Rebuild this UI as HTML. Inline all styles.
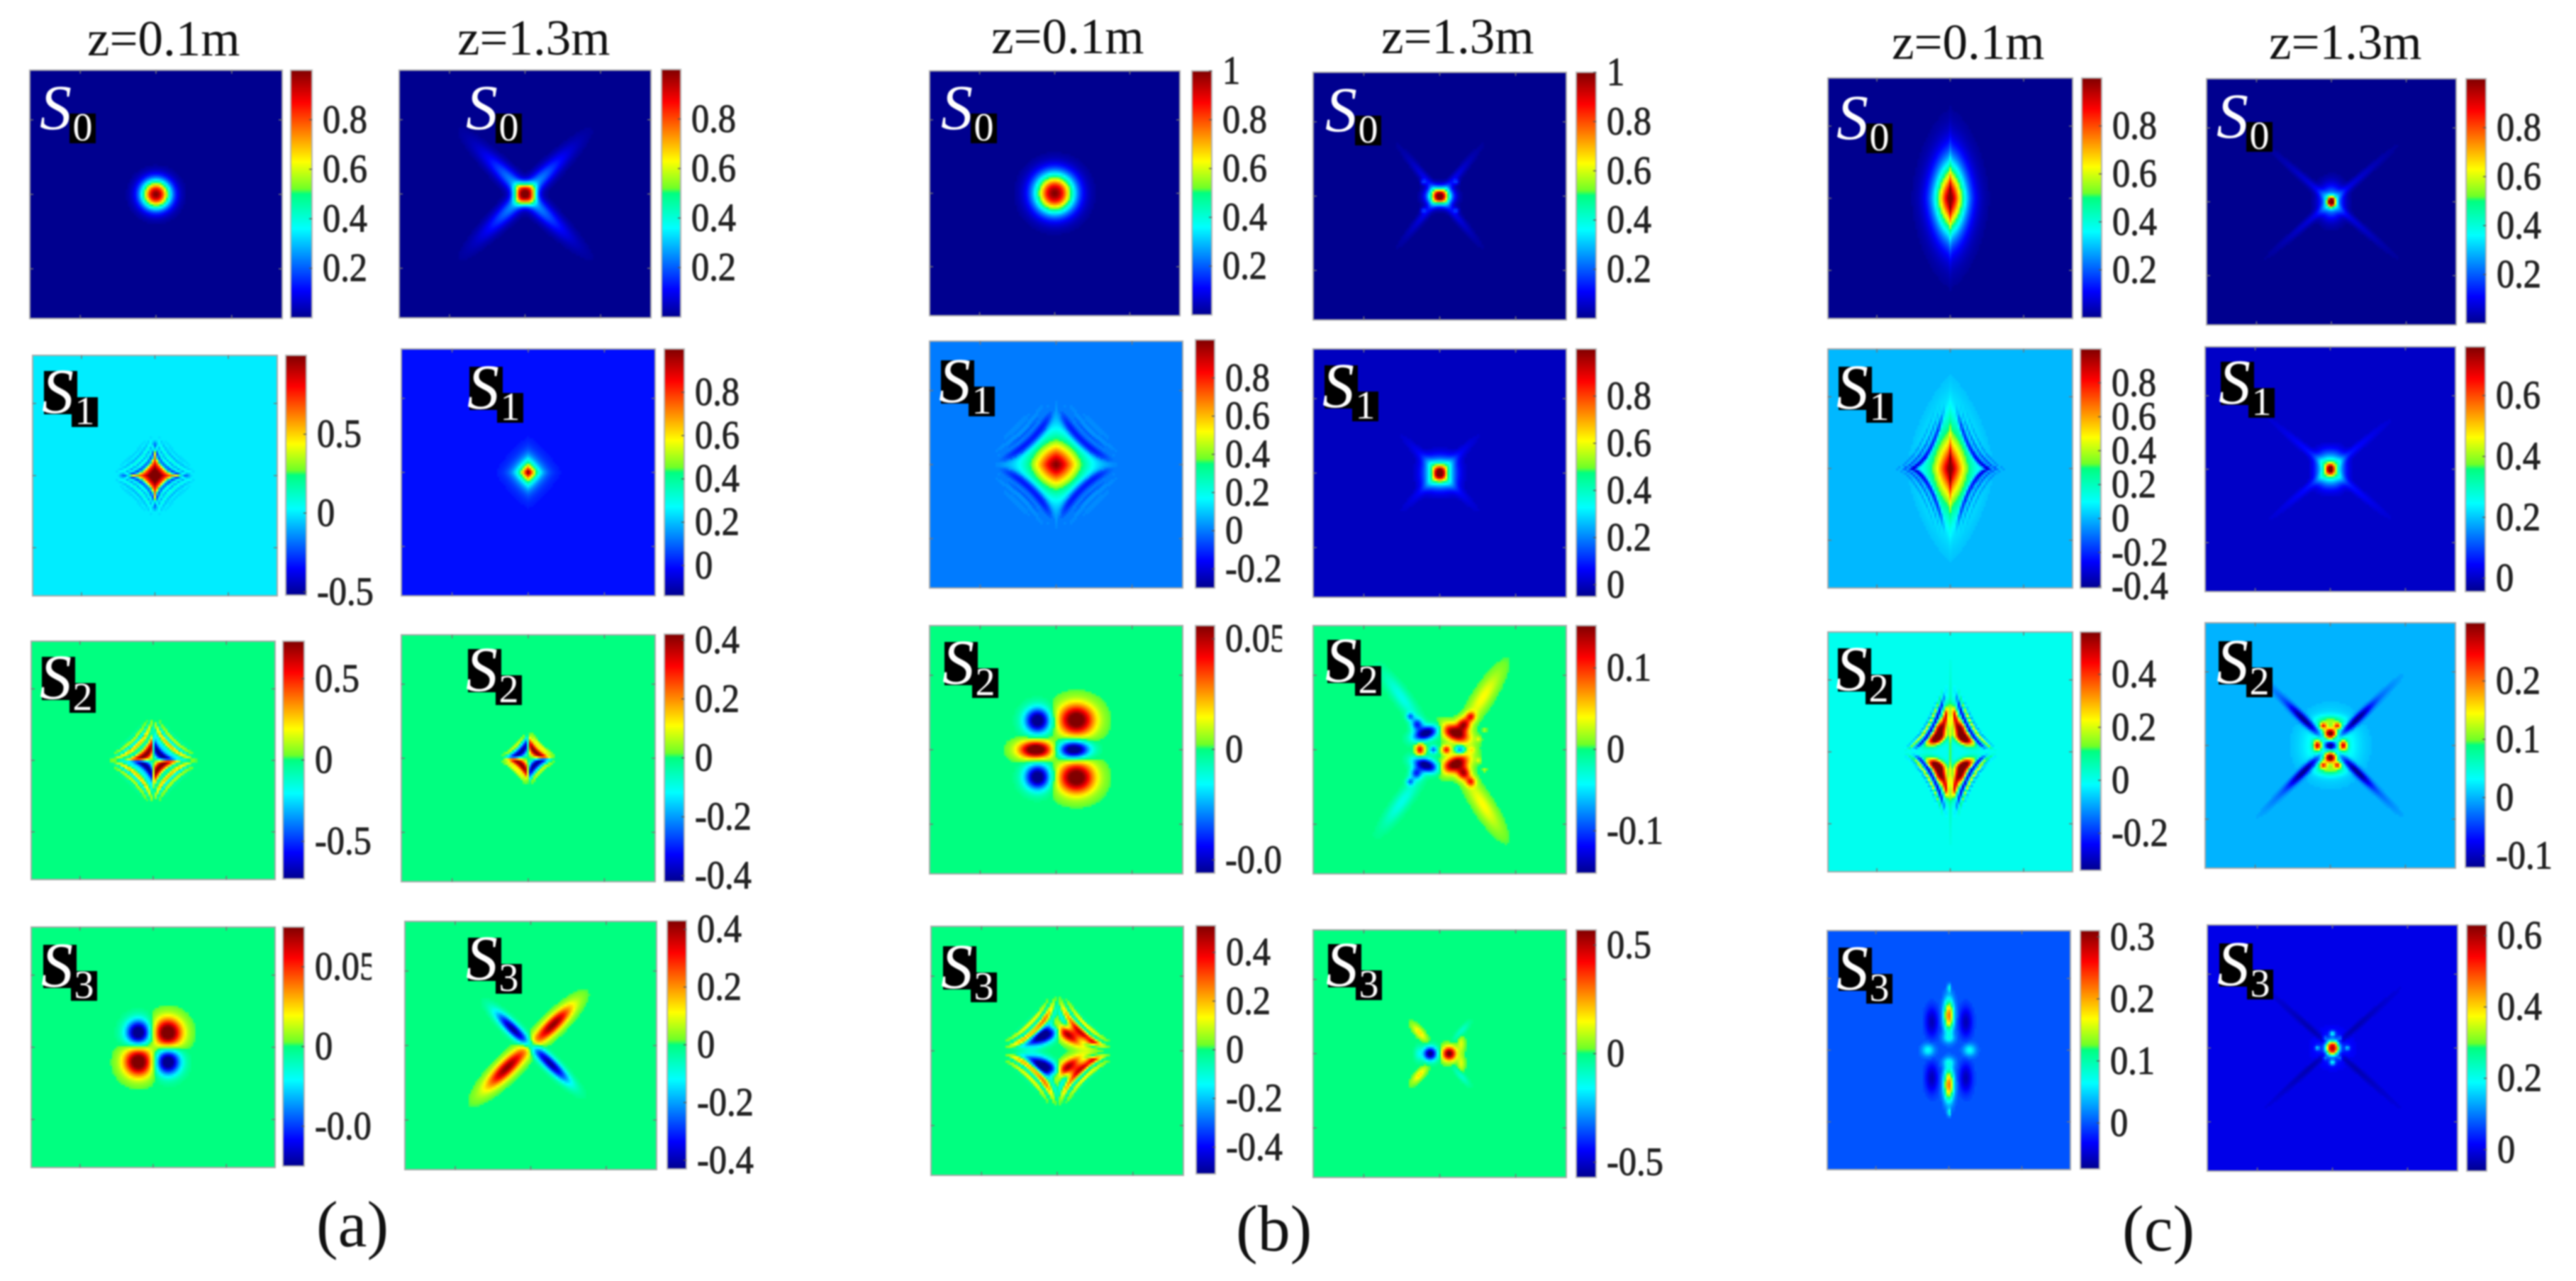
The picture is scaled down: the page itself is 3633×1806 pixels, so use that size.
<!DOCTYPE html>
<html lang="en">
<head>
<meta charset="utf-8">
<title>Stokes parameter maps</title>
<style>
html,body{margin:0;padding:0;background:#fff;}
body{width:3633px;height:1806px;overflow:hidden;}
#figure{display:block;filter:blur(1.1px);}
text{font-family:"Liberation Serif","DejaVu Serif",serif;}
.title{font-size:71px;fill:#111;}
.caption{font-size:92px;fill:#111;}
.tick{font-size:56px;fill:#222;stroke:#222;stroke-width:1px;}
.s{font-size:90px;font-style:italic;fill:#fff;}
.sub{font-size:56px;fill:#fff;}
</style>
</head>
<body>
<svg id="figure" xmlns="http://www.w3.org/2000/svg" width="3633" height="1806" viewBox="0 0 3633 1806">
<rect x="0" y="0" width="3633" height="1806" fill="#fff"/>
<text class="title" x="123" y="78">z=0.1m</text>
<text class="title" x="645" y="77">z=1.3m</text>
<text class="title" x="1398" y="75">z=0.1m</text>
<text class="title" x="1948" y="75">z=1.3m</text>
<text class="title" x="2668" y="83">z=0.1m</text>
<text class="title" x="3200" y="83">z=1.3m</text>
<text class="caption" x="446" y="1757">(a)</text>
<text class="caption" x="1743" y="1763">(b)</text>
<text class="caption" x="2993" y="1763">(c)</text>
<defs id="defs"></defs>
<g id="panels"></g>
</svg>
<script>
/* ---------- DATA ---------- */
const panelNames = [
 'a-z01-s0','a-z13-s0','a-z01-s1','a-z13-s1','a-z01-s2','a-z13-s2','a-z01-s3','a-z13-s3',
 'b-z01-s0','b-z13-s0','b-z01-s1','b-z13-s1','b-z01-s2','b-z13-s2','b-z01-s3','b-z13-s3',
 'c-z01-s0','c-z13-s0','c-z01-s1','c-z13-s1','c-z01-s2','c-z13-s2','c-z01-s3','c-z13-s3'];
const stokesIndex = [0,0,1,1,2,2,3,3,0,0,1,1,2,2,3,3,0,0,1,1,2,2,3,3];

const valueRanges = [
 [0,1],[0,1],[-.52,1],[-.14,1],[-.73,.73],[-.42,.42],[-.075,.075],[-.43,.43],
 [0,1],[0,1],[-.3,1],[-.05,1],[-.056,.056],[-.152,.152],[-.51,.51],[-.57,.57],
 [0,1],[0,1],[-.41,1],[-.044,.76],[-.34,.56],[-.12,.30],[-.074,.31],[-.06,.63]];

const tickValues = [
 [.2,.4,.6,.8],[.2,.4,.6,.8],[-.5,0,.5],[0,.2,.4,.6,.8],[-.5,0,.5],[-.4,-.2,0,.2,.4],[-.05,0,.05],[-.4,-.2,0,.2,.4],
 [.2,.4,.6,.8,1],[.2,.4,.6,.8,1],[-.2,0,.2,.4,.6,.8],[0,.2,.4,.6,.8],[-.05,0,.05],[-.1,0,.1],[-.4,-.2,0,.2,.4],[-.5,0,.5],
 [.2,.4,.6,.8],[.2,.4,.6,.8],[-.4,-.2,0,.2,.4,.6,.8],[0,.2,.4,.6],[-.2,0,.2,.4],[-.1,0,.1,.2],[0,.1,.2,.3],[0,.2,.4,.6]];
const tickLabels = [
 ['0.2','0.4','0.6','0.8'],['0.2','0.4','0.6','0.8'],['-0.5','0','0.5'],['0','0.2','0.4','0.6','0.8'],['-0.5','0','0.5'],['-0.4','-0.2','0','0.2','0.4'],['-0.0','0','0.05'],['-0.4','-0.2','0','0.2','0.4'],
 ['0.2','0.4','0.6','0.8','1'],['0.2','0.4','0.6','0.8','1'],['-0.2','0','0.2','0.4','0.6','0.8'],['0','0.2','0.4','0.6','0.8'],['-0.0','0','0.05'],['-0.1','0','0.1'],['-0.4','-0.2','0','0.2','0.4'],['-0.5','0','0.5'],
 ['0.2','0.4','0.6','0.8'],['0.2','0.4','0.6','0.8'],['-0.4','-0.2','0','0.2','0.4','0.6','0.8'],['0','0.2','0.4','0.6'],['-0.2','0','0.2','0.4'],['-0.1','0','0.1','0.2'],['0','0.1','0.2','0.3'],['0','0.2','0.4','0.6']];

/* colormap: position, r, g, b */
const colorStops = [[0,0,0,143],[.11,0,0,255],[.36,0,255,255],[.5,0,255,128],[.52,110,255,40],[.63,255,255,0],[.87,255,0,0],[1,128,0,0]];

/* lobes: x, y (panel units, -1..1, y down), sx, sy, amplitude, angle deg, shape exponent */
const lobesA1S0 = [[0,0,.113,.113,1]];
const lobesA2S0 = [[0,0,.085,.085,.5,0,3],[0,0,.42,.065,.28,45],[0,0,.42,.065,.28,-45]];
const lobesA1S1 = [[0,0,.08,.1,.5,0,1.5]];
const lobesA2S1 = [[0,0,.075,.085,1.05,0,1.2]];
const lobesA1S2 = [];
const lobesA2S2 = [];
const lobesA1S3 = [[-.12,-.12,.1,.105,-.09],[.12,-.12,.115,.118,.09],[-.12,.12,.115,.118,.09],[.12,.12,.1,.105,-.09]];
const lobesA2S3 = [[.18,-.17,.2,.055,.42,-45],[-.19,.18,.22,.06,.42,-45],[-.145,-.135,.18,.045,-.42,45],[.16,.15,.2,.045,-.42,45]];
const lobesB1S0 = [[0,0,.155,.16,1]];
const lobesB2S0 = [[0,0,.085,.065,.92],[.13,-.115,.022,.022,.13],[-.13,-.115,.022,.022,.13],[.13,.115,.022,.022,.13],[-.13,.115,.022,.022,.13],[0,0,.36,.032,.12,51],[0,0,.36,.032,.12,-51]];
const lobesB1S1 = [[0,0,.2,.2,1,0,1.5]];
const lobesB2S1 = [[0,0,.125,.125,.42,0,2.5],[0,0,.05,.06,.6],[0,0,.3,.035,.1,45],[0,0,.3,.035,.1,-45]];
const lobesB1S2 = [[-.145,-.235,.1,.1,-.065],[.16,-.24,.14,.125,.065],[-.16,0,.13,.07,.07],[.14,0,.12,.07,-.07],[-.145,.22,.1,.1,-.065],[.16,.225,.14,.125,.065]];
const lobesB2S2 = [[-.156,0,.035,.05,.12],[-.05,0,.03,.03,-.09],[.053,0,.035,.035,.11],[.16,0,.035,.035,-.09],[.25,0,.03,.03,.035],
 [-.11,-.133,.1,.05,-.17,-20],[-.18,-.205,.045,.045,-.1],[-.234,-.267,.03,.03,-.075],[-.3,-.42,.24,.055,-.035,54],
 [.124,-.133,.11,.06,.17,25],[.19,-.205,.05,.05,.12],[.245,-.267,.038,.038,.09],[.34,-.42,.24,.06,.04,-58],
 [-.11,.124,.1,.05,-.17,20],[-.186,.19,.045,.045,-.1],[-.234,.257,.03,.03,-.075],[-.3,.42,.24,.055,-.035,-54],
 [.124,.114,.11,.06,.17,-25],[.19,.19,.05,.05,.12],[.245,.257,.038,.038,.09],[.34,.44,.24,.06,.04,58],
 [.306,-.086,.018,.018,.03],[.354,-.16,.014,.014,.025],[.306,.086,.018,.018,.03],[.354,.16,.014,.014,.025]];
const lobesB1S3 = [[-.09,-.125,.13,.055,-.55,-30],[.1,-.135,.14,.06,.55,30],[-.09,.125,.13,.055,-.55,30],[.1,.135,.14,.06,.55,-30],[.27,-.07,.05,.018,.18,5],[.27,.07,.05,.018,.18,-5]];
const lobesB2S3 = [[-.075,0,.055,.055,-.6],[.075,0,.055,.055,.6],[.17,-.08,.025,.06,.12],[.17,.08,.025,.06,.12],[-.16,-.17,.08,.028,.18,50],[-.16,.17,.08,.028,.18,-50],[.17,-.18,.09,.025,-.1,-50],[.17,.18,.09,.025,-.1,50],[-.17,0,.03,.06,-.1]];
const lobesC1S0 = [[0,0,.125,.29,1,0,1.6],[0,0,.012,.42,.12]];
const lobesC2S0 = [[0,0,.03,.04,.8],[0,0,.09,.13,.32,0,2],[0,0,.5,.03,.09,41],[0,0,.5,.03,.09,-41]];
const lobesC1S1 = [[0,0,.13,.28,1,0,1.4],[0,0,.012,.38,.2]];
const lobesC2S1 = [[0,0,.035,.05,.42],[0,0,.105,.135,.32,0,2.5],[0,0,.45,.03,.07,40],[0,0,.45,.03,.07,-40]];
const lobesC1S2 = [[-.035,-.31,.07,.02,.4,-80],[-.12,-.105,.08,.04,.52,-25],[-.08,-.19,.085,.045,.58,-65],
 [.035,-.31,.07,.02,.4,80],[.12,-.105,.08,.04,.52,25],[.08,-.19,.085,.045,.58,65],
 [-.035,.31,.07,.02,.4,80],[-.12,.105,.08,.04,.52,25],[-.08,.19,.085,.045,.58,65],
 [.035,.31,.07,.02,.4,-80],[.12,.105,.08,.04,.52,-25],[.08,.19,.085,.045,.58,-65],[0,0,.012,.5,.12]];
const lobesC2S2 = [[0,0,.2,.22,.07],[0,0,.045,.03,-.17],[-.104,0,.03,.04,.22],[.104,0,.03,.04,.22],[0,-.1,.045,.04,.28],[0,.1,.045,.04,.28],
 [-.057,-.16,.03,.025,.18],[.057,-.16,.03,.025,.18],[-.057,.16,.03,.025,.18],[.057,.16,.03,.025,.18],[0,-.2,.1,.04,.08],[0,.2,.1,.04,.08],
 [-.2,-.2,.18,.03,-.14,45],[.2,.2,.18,.03,-.14,45],[.2,-.2,.18,.03,-.14,-45],[-.2,.2,.18,.03,-.14,-45],
 [-.42,-.42,.2,.03,-.02,45],[.42,.42,.2,.03,-.02,45],[.42,-.42,.2,.03,-.02,-45],[-.42,.42,.2,.03,-.02,-45]];
const lobesC1S3 = [[0,-.29,.04,.13,.22],[0,.29,.04,.13,.22],[0,-.52,.01,.03,.1],[0,.52,.01,.03,.1],
 [-.14,-.235,.05,.12,-.06],[.14,-.235,.05,.12,-.06],[-.14,.235,.05,.12,-.06],[.14,.235,.05,.12,-.06],
 [-.17,0,.05,.05,.07],[.17,0,.05,.05,.07],[0,-.1,.05,.04,.05],[0,.1,.05,.04,.05]];
const lobesC2S3 = [[0,0,.05,.055,.63,0,2.5],[0,-.117,.022,.022,.18],[0,.117,.022,.022,.18],[-.12,0,.018,.018,.15],[.12,0,.018,.018,.15],
 [-.06,-.08,.018,.018,.08],[.06,-.08,.018,.018,.08],[-.06,.08,.018,.018,.08],[.06,.08,.018,.018,.08],
 [0,0,.14,.14,.05],[0,0,.55,.025,-.05,42],[0,0,.55,.025,-.05,-42]];

/* concentric fringe families: ring radius, ring width, amplitude, signed by quadrant (1) or not (0) */
const ringsA1S1 = [[0,.28,.7,0],[.254,.05,-.6,0],[.36,.03,-.25,0],[.47,.03,-.14,0],[.56,.03,-.07,0]];
const ringsA1S2 = [[.17,.09,.75,1],[.31,.035,-.15,0],[.41,.035,.3,0],[.47,.03,-.25,0],[.535,.03,.16,0],[.6,.03,-.08,0]];
const ringsA2S2 = [[.17,.08,-.42,1],[.31,.03,.12,0]];
const ringsB1S1 = [[.63,.1,-.3,0],[.8,.04,-.15,0],[.92,.04,-.07,0]];
const ringsB1S3 = [[.41,.06,-.15,0],[.54,.05,.3,0],[.62,.03,-.12,0],[.69,.03,.2,0],[.76,.025,-.05,0]];
const ringsC1S1 = [[.66,.06,-.4,0],[.8,.035,-.2,0],[.92,.03,-.1,0]];
const ringsC1S2 = [[.72,.05,-.34,0],[.84,.03,.25,0],[.92,.025,-.1,0]];
/* fringe geometry: x stretch, y stretch, curve exponent, outer fade radius, gap around the x axis */
const fringeA1S1 = [1,1,.6,.3,0];
const fringeA1S2 = [1,1,.6,.3,0];
const fringeA2S2 = [1,1,.6,.18,0];
const fringeB1S1 = [1,1,.6,.4,0];
const fringeB1S3 = [1,1,.6,.36,.03];
const fringeC1S1 = [.5,1.5,.6,.45,0];
const fringeC1S2 = [.5,1.2,.6,.45,.05];
const none = [];

const panelLobes = [lobesA1S0,lobesA2S0,lobesA1S1,lobesA2S1,lobesA1S2,lobesA2S2,lobesA1S3,lobesA2S3,
 lobesB1S0,lobesB2S0,lobesB1S1,lobesB2S1,lobesB1S2,lobesB2S2,lobesB1S3,lobesB2S3,
 lobesC1S0,lobesC2S0,lobesC1S1,lobesC2S1,lobesC1S2,lobesC2S2,lobesC1S3,lobesC2S3];
const panelRings = [none,none,ringsA1S1,none,ringsA1S2,ringsA2S2,none,none,
 none,none,ringsB1S1,none,none,none,ringsB1S3,none,
 none,none,ringsC1S1,none,ringsC1S2,none,none,none];
const panelFringe = [none,none,fringeA1S1,none,fringeA1S2,fringeA2S2,none,none,
 none,none,fringeB1S1,none,none,none,fringeB1S3,none,
 none,none,fringeC1S1,none,fringeC1S2,none,none,none];

/* ---------- LAYOUT ---------- */
const frames = [
 [42,99,356,350],[563,99,355,349],[46,501,345,339],[566,492,358,348],[44,904,344,336],[566,895,358,348],[44,1307,344,339],[571,1299,355,350],
 [1311,100,353,345],[1852,102,357,349],[1311,481,357,348],[1852,492,357,350],[1311,882,357,350],[1852,882,357,350],[1313,1306,356,351],[1852,1311,357,349],
 [2578,110,345,339],[3112,111,352,347],[2578,492,345,337],[3110,489,353,345],[2578,891,345,338],[3110,878,353,346],[2577,1312,343,337],[3113,1304,353,347]];
const bars = [
 [410,99,30,349],[933,98,27,349],[403,501,29,338],[937,492,28,348],[399,904,30,335],[937,894,28,349],[399,1307,30,337],[941,1298,27,350],
 [1681,100,28,344],[2223,102,28,347],[1686,479,27,350],[2223,492,28,349],[1686,882,27,349],[2223,882,28,349],[1687,1305,27,350],[2223,1311,28,349],
 [2936,110,28,338],[3478,111,28,345],[2934,492,29,337],[3477,489,28,345],[2934,891,29,336],[3477,878,28,345],[2934,1312,27,336],[3479,1304,28,347]];
const badgeOrigins = [
 [57,123],[658,123],[60,523],[660,517],[57,926],[658,915],[59,1332],[658,1322],
 [1328,123],[1870,126],[1325,508],[1866,515],[1330,905],[1870,902],[1328,1334],[1871,1331],
 [2591,137],[3127,135],[2591,517],[3130,510],[2590,914],[3127,904],[2591,1336],[3128,1330]];
const croppedLabelPanels = [[6,524],[12,1808]];
const frameTickFractions = [-.6,0,.6];
const CELL = 3;

/* ---------- DRAWING ---------- */
const SVGNS = 'http://www.w3.org/2000/svg';
function mk(tag, attrs, parent){
  const el = document.createElementNS(SVGNS, tag);
  for (const k in attrs) el.setAttribute(k, attrs[k]);
  parent.appendChild(el);
  return el;
}
function colormap(t){
  t = Math.max(0, Math.min(1, t));
  for (let i = 1; i < colorStops.length; i++){
    const a = colorStops[i-1], b = colorStops[i];
    if (t <= b[0]){
      const f = (t - a[0]) / (b[0] - a[0]);
      return 'rgb(' + Math.round(a[1]+(b[1]-a[1])*f) + ',' + Math.round(a[2]+(b[2]-a[2])*f) + ',' + Math.round(a[3]+(b[3]-a[3])*f) + ')';
    }
  }
  return 'rgb(128,0,0)';
}
function fieldValue(lobes, rings, fringe, x, y){
  let v = 0;
  for (const l of lobes){
    const dx = x - l[0], dy = y - l[1];
    const th = (l[5] || 0) * Math.PI / 180, c = Math.cos(th), s = Math.sin(th);
    const X = (dx*c + dy*s) / l[2], Y = (-dx*s + dy*c) / l[3];
    const q = l[6] || 2;
    const e = q === 2 ? X*X + Y*Y : Math.pow(Math.abs(X), q) + Math.pow(Math.abs(Y), q);
    if (e < 30) v += l[4] * Math.exp(-e);
  }
  if (rings.length){
    const p = fringe[2];
    const u = Math.pow(Math.pow(Math.abs(x/fringe[0]), p) + Math.pow(Math.abs(y/fringe[1]), p), 1/p);
    const d = Math.sqrt(x*x + y*y) / fringe[3];
    const fade = Math.exp(-Math.pow(d, 6));
    const gap = fringe[4] ? 1 - Math.exp(-(y*y)/(fringe[4]*fringe[4])) : 1;
    if (fade > .001){
      for (const r of rings){
        const z = (u - r[0]) / r[1];
        let g = r[2] * Math.exp(-z*z);
        if (r[3]) g *= Math.tanh(x/.012) * Math.tanh(y/.012);
        v += g * fade * gap;
      }
    }
  }
  return v;
}

const defs = document.getElementById('defs');
const grad = mk('linearGradient', {id:'barGradient', x1:0, y1:1, x2:0, y2:0}, defs);
colorStops.forEach(function(s){
  mk('stop', {offset:s[0], 'stop-color':'rgb('+s[1]+','+s[2]+','+s[3]+')'}, grad);
});

const root = document.getElementById('panels');
panelNames.forEach(function(name, i){
  const f = frames[i], b = bars[i], range = valueRanges[i];
  const span = range[1] - range[0];
  const tOf = function(v){ return (v - range[0]) / span; };
  const g = mk('g', {}, root);
  
  

  const bg = mk('rect', {x:f[0], y:f[1], width:f[2], height:f[3], fill:colormap(tOf(0))}, g);
  
  

  const cells = mk('g', {'shape-rendering':'crispEdges'}, g);
  
  
  const eps = span * .012;
  const xData = function(px){ return (px / f[2]) * 2 - 1; };
  const yData = function(py){ return (py / f[3]) * 2 - 1; };
  for (let py = 0; py < f[3]; py += CELL){
    for (let px = 0; px < f[2]; px += CELL){
      const v = fieldValue(panelLobes[i], panelRings[i], panelFringe[i], xData(px + CELL/2), yData(py + CELL/2));
      if (Math.abs(v) < eps) continue;
      const cell = mk('rect', {x:f[0]+px, y:f[1]+py, width:Math.min(CELL+.3, f[2]-px), height:Math.min(CELL+.3, f[3]-py), fill:colormap(tOf(v))}, cells);
      
      
    }
  }

  const border = mk('rect', {x:f[0], y:f[1], width:f[2], height:f[3], fill:'none', stroke:'#a9a9a9', 'stroke-width':2}, g);
  
  
  frameTickFractions.forEach(function(fr){
    const tx = f[0] + (fr + 1) / 2 * f[2], ty = f[1] + (fr + 1) / 2 * f[3];
    [[tx,f[1],tx,f[1]+5],[tx,f[1]+f[3],tx,f[1]+f[3]-5],[f[0],ty,f[0]+5,ty],[f[0]+f[2],ty,f[0]+f[2]-5,ty]].forEach(function(t){
      const tick = mk('line', {x1:t[0], y1:t[1], x2:t[2], y2:t[3], stroke:'#777', 'stroke-width':1.5}, g);
      
      
    });
  });

  /* badge */
  const o = badgeOrigins[i], st = stokesIndex[i];
  const badge = mk('g', {}, g);
  
  
  if (st > 0) {
    const box = mk('rect', {x:o[0]+2, y:o[1], width:47, height:61, fill:'#000'}, badge);
    
    
  }
  const subBox = mk('rect', {x:o[0]+41, y:o[1]+37, width:37, height:42, fill:'#000'}, badge);
  
  
  const sText = mk('text', {x:o[0]-1, y:o[1]+59, class:'s'}, badge);
  sText.textContent = 'S';
  
  
  const subText = mk('text', {x:o[0]+59.5, y:o[1]+75, class:'sub', 'text-anchor':'middle'}, badge);
  subText.textContent = String(st);
  
  

  /* colorbar */
  const cb = mk('g', {}, g);
  
  
  const bar = mk('rect', {x:b[0], y:b[1], width:b[2], height:b[3], fill:'url(#barGradient)', stroke:'#b5b5b5', 'stroke-width':2}, cb);
  
  
  const yBar = function(v){ return b[1] + b[3] * (1 - tOf(v)); };
  tickValues[i].forEach(function(v, k){
    const y = yBar(v);
    const tm = mk('line', {x1:b[0]+b[2]-4, y1:y, x2:b[0]+b[2], y2:y, stroke:'#555', 'stroke-width':1.5}, cb);
    
    
    const lab = mk('text', {x:0, y:0, class:'tick', transform:'translate(' + (b[0]+b[2]+15) + ',' + (y+18) + ') scale(.9,1)'}, cb);
    lab.textContent = tickLabels[i][k];
    
    
  });
  croppedLabelPanels.forEach(function(c){
    if (c[0] === i){
      const mask = mk('rect', {x:c[1], y:b[1]-30, width:40, height:b[3]+60, fill:'#fff'}, cb);
      
      
    }
  });
});
</script>
</body>
</html>
